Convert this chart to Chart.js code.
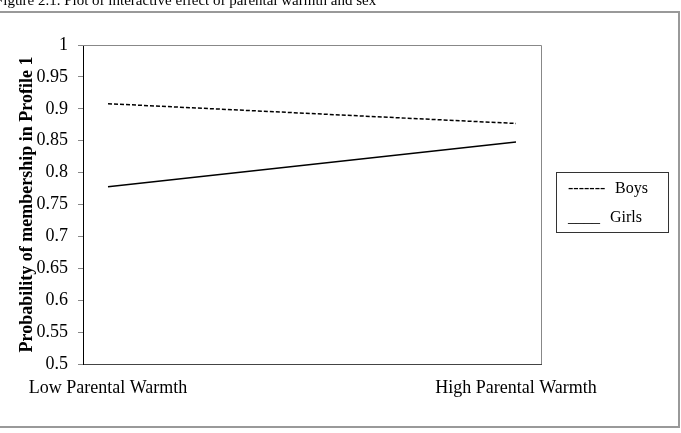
<!DOCTYPE html>
<html>
<head>
<meta charset="utf-8">
<script src="https://cdn.jsdelivr.net/npm/chart.js@4/dist/chart.umd.min.js"></script>
<style>
html,body{margin:0;padding:0;background:#fff;}
#wrap{position:relative;width:681px;height:433px;}
</style>
</head>
<body>
<div id="wrap"><canvas id="c" width="681" height="433"></canvas></div>
<script>
const categories = ['Low Parental Warmth', 'High Parental Warmth'];
const boys = [0.908, 0.877];
const girls = [0.778, 0.848];
const yTickValues = [0.5, 0.55, 0.6, 0.65, 0.7, 0.75, 0.8, 0.85, 0.9, 0.95, 1];
const figureTitle = 'Figure 2.1. Plot of interactive effect of parental warmth and sex';
const yAxisTitle = 'Probability of membership in Profile 1';
const legendDashes = ['-------', '____'];
const legendLabels = ['Boys', 'Girls'];

const SERIF = '"Liberation Serif", "Times New Roman", serif';

const decor = {
  id: 'decor',
  beforeDraw(chart) {
    const ctx = chart.ctx;
    ctx.save();
    ctx.fillStyle = '#fff';
    ctx.fillRect(0, 0, chart.width, chart.height);
    // outer frame
    ctx.strokeStyle = '#999';
    ctx.lineWidth = 2;
    ctx.beginPath();
    ctx.moveTo(0, 12); ctx.lineTo(679, 12); ctx.lineTo(679, 427); ctx.lineTo(0, 427);
    ctx.stroke();
    // figure title (cut at top)
    ctx.fillStyle = '#000';
    ctx.font = '15px ' + SERIF;
    ctx.textBaseline = 'alphabetic';
    ctx.textAlign = 'left';
    ctx.fillText(figureTitle, -5, 5);
    ctx.restore();
  },
  afterDraw(chart) {
    const ctx = chart.ctx;
    const a = chart.chartArea;
    ctx.save();
    // top and right plot border
    ctx.strokeStyle = '#888';
    ctx.lineWidth = 1;
    ctx.beginPath();
    ctx.moveTo(a.left, a.top + 0.5); ctx.lineTo(a.right + 0.5, a.top + 0.5); ctx.lineTo(a.right + 0.5, a.bottom);
    ctx.stroke();
    // y axis title
    ctx.fillStyle = '#000';
    ctx.font = 'bold 18px ' + SERIF;
    ctx.textAlign = 'center';
    ctx.textBaseline = 'middle';
    ctx.translate(27, (a.top + a.bottom) / 2);
    ctx.rotate(-Math.PI / 2);
    ctx.fillText(yAxisTitle, 0, 0);
    ctx.restore();
    // legend box
    ctx.save();
    ctx.strokeStyle = '#333';
    ctx.lineWidth = 1;
    ctx.strokeRect(556.5, 172.5, 112, 60);
    ctx.fillStyle = '#000';
    ctx.font = '16px ' + SERIF;
    ctx.textAlign = 'left';
    ctx.textBaseline = 'alphabetic';
    ctx.fillText(legendDashes[0], 568, 193);
    ctx.fillText(legendLabels[0], 615, 193);
    ctx.fillText(legendDashes[1], 568, 222);
    ctx.fillText(legendLabels[1], 610, 222);
    ctx.restore();
  }
};

new Chart(document.getElementById('c'), {
  type: 'line',
  data: {
    datasets: [
      {
        label: 'Boys',
        data: boys.map((v, i) => ({x: i, y: v})),
        borderColor: '#000',
        borderWidth: 1.5,
        borderDash: [4, 2],
        pointRadius: 0,
        fill: false,
        tension: 0
      },
      {
        label: 'Girls',
        data: girls.map((v, i) => ({x: i, y: v})),
        borderColor: '#000',
        borderWidth: 1.5,
        pointRadius: 0,
        fill: false,
        tension: 0
      }
    ]
  },
  options: {
    responsive: false,
    animation: false,
    devicePixelRatio: 1,
    layout: { padding: { left: 0, right: 140, top: 45, bottom: 0 } },
    plugins: { legend: { display: false }, tooltip: { enabled: false }, title: { display: false } },
    scales: {
      x: {
        type: 'linear',
        min: -0.0613,
        max: 1.0613,
        afterBuildTicks(scale) { scale.ticks = categories.map((c, i) => ({value: i})); },
        afterFit(scale) { scale.height = 69; },
        grid: { display: false, drawTicks: false },
        border: { display: true, color: '#444', width: 1 },
        ticks: {
          color: '#000',
          font: { family: SERIF, size: 18 },
          padding: 13,
          maxRotation: 0,
          autoSkip: false,
          callback: (v) => categories[v]
        }
      },
      y: {
        type: 'linear',
        min: 0.5,
        max: 1,
        afterBuildTicks(scale) { scale.ticks = yTickValues.map(v => ({value: v})); },
        afterFit(scale) { scale.width = 83; },
        grid: { drawOnChartArea: false, drawTicks: true, tickLength: 5, color: '#888' },
        border: { display: true, color: '#000', width: 1 },
        ticks: {
          color: '#000',
          font: { family: SERIF, size: 18 },
          padding: 10,
          callback: (v) => String(+v.toFixed(2))
        }
      }
    }
  },
  plugins: [decor]
});
</script>
</body>
</html>
